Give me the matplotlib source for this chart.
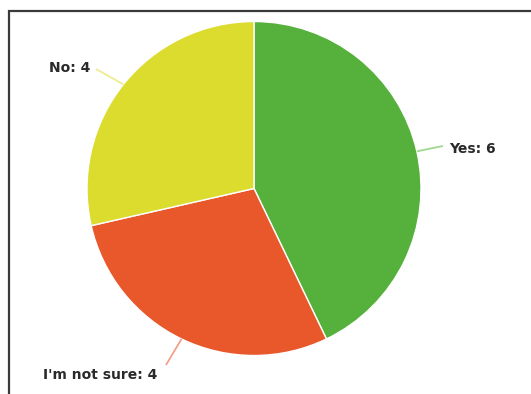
import matplotlib.pyplot as plt
import numpy as np

labels = ["Yes", "I'm not sure", "No"]
counts = [6, 4, 4]
colors = ["#55b13b", "#e9582b", "#dcdc2f"]
line_colors = ["#9fd88f", "#f2a188", "#ecec93"]

W, H = 531, 394
fig = plt.figure(figsize=(W / 100, H / 100), dpi=100)
ax = fig.add_axes([0, 0, 1, 1])

# pie in pixel-like coords (y up)
cx, cy, r = 254, H - 188.5, 167
wedges, _ = ax.pie(counts, colors=colors, startangle=90, counterclock=False,
                   center=(cx, cy), radius=r, frame=True,
                   wedgeprops=dict(edgecolor="white", linewidth=1.0))
ax.set_xlim(0, W)
ax.set_ylim(0, H)
ax.set_aspect("equal")
ax.axis("off")

# label positions (left edge x, center y) in pixel coords
text_pos = [(449, H - 149), (43, H - 375), (49, H - 68)]
line_ends = [(443, H - 146), (166, H - 365), (96, H - 69)]

for w, lab, n, lc, tp, le in zip(wedges, labels, counts, line_colors, text_pos, line_ends):
    ang = np.deg2rad((w.theta1 + w.theta2) / 2)
    x0 = cx + r * np.cos(ang)
    y0 = cy + r * np.sin(ang)
    ax.plot([x0, le[0]], [y0, le[1]], color=lc, lw=1.3, solid_capstyle="butt")
    ax.text(tp[0], tp[1], f"{lab}: {n}", ha="left", va="center",
            fontsize=10, fontweight="bold", color="#2a2a2a",
            family="DejaVu Sans")

# frame (cut off at right and bottom)
ax.plot([8.5, 8.5, W + 5], [-5, H - 10.5, H - 10.5], color="#3a3a3a", lw=1.6,
        clip_on=False, solid_joinstyle="miter")

fig.savefig("out.png", dpi=100)
